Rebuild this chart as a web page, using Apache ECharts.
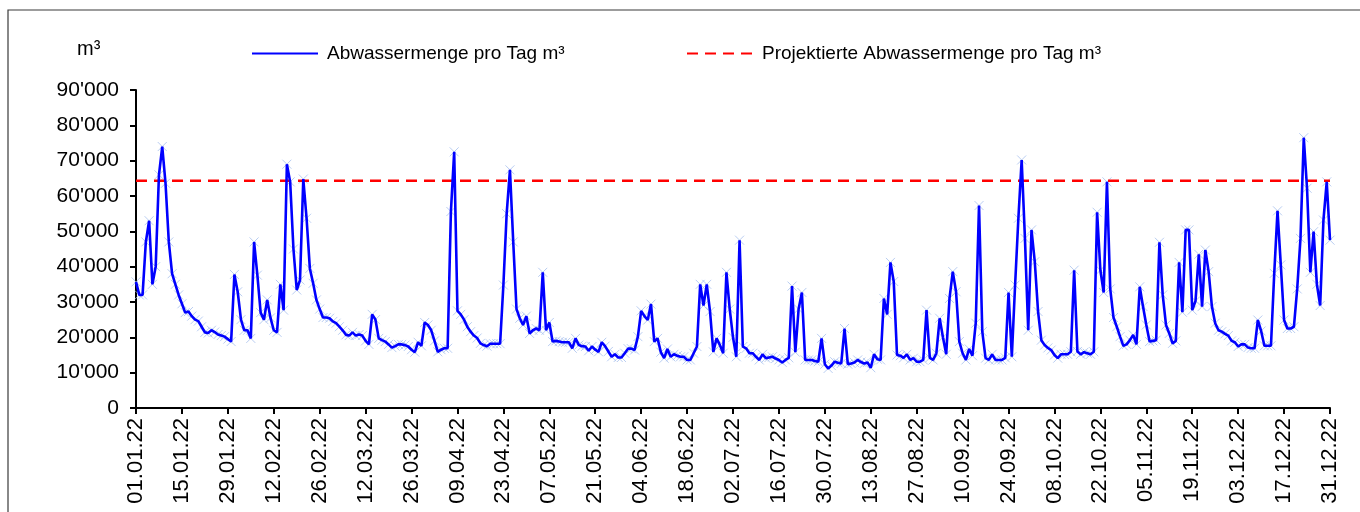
<!DOCTYPE html>
<html>
<head>
<meta charset="utf-8">
<title>Abwassermenge 2022</title>
<script src="https://cdn.jsdelivr.net/npm/echarts@6/dist/echarts.min.js"></script>
<style>
  html, body { margin: 0; padding: 0; background: #ffffff; }
  #chart { width: 1360px; height: 512px; }
</style>
</head>
<body>
<div id="chart"></div>
<script>
// Daily wastewater volume 2022 (m³), one value per day from 01.01.22 to 31.12.22
const flowValues = [
  35700, 32000, 32000, 47000, 53000, 35000, 40000, 66000, 74000, 63600,
  47000, 38000, 35000, 32000, 29500, 27000, 27300, 26000, 25000, 24600,
  23000, 21400, 21200, 22000, 21500, 20800, 20500, 20200, 19500, 18800,
  37800, 32900, 25000, 22000, 22000, 19700, 47000, 37600, 27000, 25000,
  30600, 25500, 22000, 21400, 35000, 27700, 69000, 64000, 45000, 33400,
  36200, 64800, 53700, 39500, 35300, 30600, 28000, 25600, 25600, 25400,
  24500, 24000, 23000, 22000, 20700, 20500, 21400, 20500, 20800, 20500,
  19000, 18000, 26500, 25000, 19700, 19200, 18800, 18000, 17100, 17500,
  18000, 18000, 17800, 17400, 16500, 15800, 18600, 17600, 24200, 23500,
  22000, 19000, 15900, 16500, 16900, 16900, 55600, 72500, 27500, 26500,
  25000, 23000, 21600, 20500, 19800, 18300, 17800, 17500, 18200, 18200,
  18200, 18200, 34800, 55000, 67400, 47000, 28000, 25400, 23500, 26000,
  21100, 22000, 22500, 22000, 38400, 22000, 24200, 18800, 19000, 18800,
  18600, 18600, 18600, 16900, 19700, 17800, 17500, 17400, 16200, 17400,
  16500, 15900, 18600, 17500, 16000, 14500, 15200, 14300, 14300, 15500,
  16800, 16800, 16400, 20200, 27500, 26000, 24900, 29400, 18800, 19700,
  15800, 14100, 16700, 14500, 15200, 14800, 14500, 14500, 13600, 13600,
  15500, 17400, 35000, 29000, 35000, 27300, 15900, 19700, 17800, 15500,
  38400, 28000, 20000, 14500, 47500, 17400, 16900, 15500, 15500, 14500,
  13600, 15200, 14100, 14300, 14500, 14000, 13600, 12900, 13600, 14200,
  34500, 15800, 28000, 32700, 13600, 13600, 13600, 13300, 13100, 19700,
  12400, 11200, 12000, 13100, 12800, 12600, 22500, 12400, 12600, 12900,
  13600, 13000, 12600, 12900, 11400, 15200, 13800, 13600, 31000, 26500,
  41200, 35800, 15000, 14800, 14200, 15200, 13600, 14100, 13100, 13100,
  13600, 27700, 14200, 13600, 15500, 25400, 20000, 15200, 31000, 38600,
  32900, 18800, 15500, 13600, 16700, 14800, 24000, 57300, 21600, 14100,
  13600, 15200, 13600, 13600, 13600, 14200, 32700, 14500, 34800, 53700,
  70200, 48000, 22000, 50400, 41400, 27300, 19200, 17800, 17000, 16400,
  15000, 14100, 15200, 15200, 15200, 15900, 39000, 16000, 15200, 15800,
  15500, 15200, 15900, 55400, 39000, 32700, 64000, 33700, 25600, 23000,
  20200, 17600, 18000, 19200, 20700, 18000, 34300, 28700, 23500, 18800,
  19000, 19200, 46900, 32000, 23500, 21100, 18300, 19000, 41200, 27100,
  50400, 50400, 27700, 30300, 43500, 28700, 44700, 38600, 28700, 24000,
  22000, 21600, 21000, 20500, 19000, 18600, 17400, 18000, 18000, 17100,
  16900, 16900, 24900, 21800, 17600, 17600, 17600, 38100, 55800, 40500,
  24900, 22500, 22500, 23000, 33700, 48000, 76500, 62200, 38400, 49900,
  35000, 29000, 53200, 64000, 47500
];

// Projected daily volume (m³)
const projectedValue = 64300;

// Series names
const seriesNames = ['Abwassermenge pro Tag m³', 'Projektierte Abwassermenge pro Tag m³'];

// Y axis range and step
const yMin = 0;
const yMax = 90000;
const yStep = 10000;

// Dates of the year as DD.MM.YY labels
const firstDay = new Date(2022, 0, 1);
const dayLabels = [];
for (let i = 0; i < flowValues.length; i++) {
  const d = new Date(firstDay.getFullYear(), firstDay.getMonth(), firstDay.getDate() + i);
  const dd = String(d.getDate()).padStart(2, '0');
  const mm = String(d.getMonth() + 1).padStart(2, '0');
  const yy = String(d.getFullYear()).slice(2);
  dayLabels.push(dd + '.' + mm + '.' + yy);
}

const FONT = "'Liberation Sans', Arial, sans-serif";

function swissThousands(v) {
  return String(v).replace(/\B(?=(\d{3})+(?!\d))/g, "'");
}

const chart = echarts.init(document.getElementById('chart'), null, { renderer: 'canvas' });

const legendCommon = {
  top: 39,
  itemWidth: 66,
  itemHeight: 14,
  itemStyle: { opacity: 0 },
  textStyle: { fontFamily: FONT, fontSize: 19, color: '#000', padding: [0, 0, 0, 4] },
  selectedMode: false
};

chart.setOption({
  backgroundColor: '#ffffff',
  animation: false,
  textStyle: { fontFamily: FONT, color: '#000' },
  graphic: [
    {
      type: 'rect',
      shape: { x: 8, y: 10, width: 1400, height: 560 },
      style: { fill: 'none', stroke: '#3a3a3a', lineWidth: 1.2 },
      silent: true,
      z: 0
    },
    {
      type: 'text',
      left: 77,
      top: 39,
      style: { text: 'm³', font: "20px 'Liberation Sans', Arial, sans-serif", fill: '#000' },
      silent: true
    }
  ],
  legend: [
    Object.assign({ left: 246, data: [seriesNames[0]] }, legendCommon),
    Object.assign({ left: 681, data: [seriesNames[1]] }, legendCommon)
  ],
  grid: { left: 136, right: 30, top: 90, bottom: 104, containLabel: false },
  xAxis: {
    type: 'category',
    data: dayLabels,
    boundaryGap: false,
    axisLine: { lineStyle: { color: '#000', width: 2 } },
    axisTick: { interval: 13, length: 6, lineStyle: { color: '#000', width: 2 } },
    axisLabel: {
      interval: 13,
      rotate: 90,
      margin: 10,
      fontFamily: FONT,
      fontSize: 22,
      color: '#000'
    },
    splitLine: { show: false }
  },
  yAxis: {
    type: 'value',
    min: yMin,
    max: yMax,
    interval: yStep,
    axisLine: { show: true, lineStyle: { color: '#000', width: 2 } },
    axisTick: { show: true, length: 6, lineStyle: { color: '#000', width: 2 } },
    axisLabel: {
      margin: 17,
      fontFamily: FONT,
      fontSize: 21,
      color: '#000',
      formatter: swissThousands
    },
    splitLine: { show: false }
  },
  series: [
    {
      name: 'Messpunkte',
      type: 'scatter',
      data: flowValues,
      symbol: 'path://M0 0L10 10M10 0L0 10',
      symbolSize: 9,
      itemStyle: { color: 'none', borderColor: '#a7c1ee', borderWidth: 1 },
      silent: true,
      z: 1
    },
    {
      name: seriesNames[0],
      type: 'line',
      data: flowValues,
      symbol: 'none',
      lineStyle: { color: '#0000ff', width: 2.6 },
      itemStyle: { color: '#0000ff' },
      z: 3
    },
    {
      name: seriesNames[1],
      type: 'line',
      data: [[dayLabels[0], projectedValue], [dayLabels[dayLabels.length - 1], projectedValue]],
      symbol: 'none',
      lineStyle: { color: '#ff0000', width: 2.6, type: [11, 7] },
      itemStyle: { color: '#ff0000' },
      z: 2
    }
  ]
});
</script>
</body>
</html>
